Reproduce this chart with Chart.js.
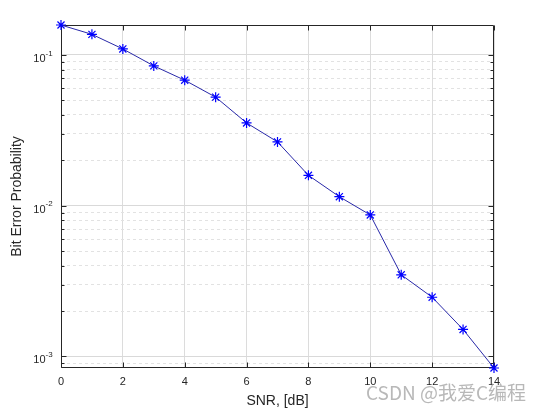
<!DOCTYPE html>
<html>
<head>
<meta charset="utf-8">
<script src="https://cdn.jsdelivr.net/npm/chart.js@4.4.0/dist/chart.umd.min.js"></script>
<style>
  html, body { margin: 0; padding: 0; background: #fff; }
  canvas { display: block; }
</style>
</head>
<body>
<canvas id="berChart" width="540" height="411"></canvas>
<script>
// data (semilogy, axis tight)
const snr = [0, 1, 2, 3, 4, 5, 6, 7, 8, 9, 10, 11, 12, 13, 14];
const ber = [0.158, 0.137, 0.1096, 0.0846, 0.068, 0.0525, 0.0354, 0.0265, 0.0159, 0.01147, 0.00868, 0.00348, 0.00247, 0.00151, 0.000838];

const xTicks = [0, 2, 4, 6, 8, 10, 12, 14];
const yMajorTicks = [0.001, 0.01, 0.1];
const yExponents = ['-3', '-2', '-1'];
const yMinorTicks = [0.0009,
  0.002, 0.003, 0.004, 0.005, 0.006, 0.007, 0.008, 0.009,
  0.02, 0.03, 0.04, 0.05, 0.06, 0.07, 0.08, 0.09];

const textColor = '#262626';
const fontName = '"Liberation Sans", Arial, sans-serif';

// box + inward ticks like matlab axes
const axesBox = {
  id: 'axesBox',
  beforeDatasetsDraw(chart) {
    const { ctx, chartArea: a, scales: { x, y } } = chart;
    const L = Math.round(a.left) + 0.5, R = Math.round(a.right) - 0.5;
    const T = Math.round(a.top) + 0.5, B = Math.round(a.bottom) - 0.5;
    ctx.save();
    ctx.strokeStyle = textColor;
    ctx.lineWidth = 1;
    ctx.beginPath();
    xTicks.forEach(v => {
      const px = Math.round(x.getPixelForValue(v)) + 0.5;
      ctx.moveTo(px, B); ctx.lineTo(px, B - 5);
      ctx.moveTo(px, T); ctx.lineTo(px, T + 5);
    });
    yMajorTicks.forEach(v => {
      const py = Math.round(y.getPixelForValue(v)) + 0.5;
      ctx.moveTo(L, py); ctx.lineTo(L + 5, py);
      ctx.moveTo(R, py); ctx.lineTo(R - 5, py);
    });
    yMinorTicks.forEach(v => {
      const py = Math.round(y.getPixelForValue(v)) + 0.5;
      ctx.moveTo(L, py); ctx.lineTo(L + 3, py);
      ctx.moveTo(R, py); ctx.lineTo(R - 3, py);
    });
    ctx.rect(L, T, R - L, B - T);
    ctx.stroke();
    ctx.restore();
  },
  afterDraw(chart) {
    const { ctx, scales: { y } } = chart;
    ctx.save();
    ctx.fillStyle = textColor;
    ctx.textBaseline = 'middle';
    yMajorTicks.forEach((v, i) => {
      const py = y.getPixelForValue(v);
      ctx.font = '11px ' + fontName;
      ctx.textAlign = 'right';
      ctx.fillText('10', 45.5, py + 4);
      ctx.font = '8px ' + fontName;
      ctx.textAlign = 'left';
      ctx.fillText(yExponents[i], 45.5, py - 1.5);
    });
    // watermark
    ctx.font = '19px "Noto Sans CJK SC", "Liberation Sans", sans-serif';
    ctx.fillStyle = 'rgba(160,160,160,0.75)';
    ctx.textAlign = 'left';
    ctx.fillText('CSDN @我爱C编程', 366, 393);
    ctx.restore();
  }
};

const ctx = document.getElementById('berChart').getContext('2d');

const berChart = new Chart(ctx, {
  type: 'line',
  data: {
    datasets: [{
      label: 'BER',
      data: snr.map((s, i) => ({ x: s, y: ber[i] })),
      borderColor: '#2828a8',
      borderWidth: 1,
      tension: 0,
      pointStyle: 'star',
      pointRadius: 5,
      pointBorderWidth: 1.2,
      pointBorderColor: '#0000ff',
      pointBackgroundColor: '#0000ff',
      clip: false
    }]
  },
  options: {
    responsive: false,
    animation: false,
    devicePixelRatio: 1,
    events: [],
    layout: { padding: { left: 0, top: 25, right: 46, bottom: 0 } },
    plugins: {
      legend: { display: false },
      tooltip: { enabled: false }
    },
    scales: {
      x: {
        type: 'linear',
        min: 0,
        max: 14,
        afterFit(scale) { scale.height = 43; },
        afterBuildTicks(scale) { scale.ticks = xTicks.map(v => ({ value: v })); },
        ticks: {
          color: textColor,
          font: { family: fontName, size: 11 },
          padding: 7,
          maxRotation: 0
        },
        grid: { color: '#dcdcdc', drawTicks: false },
        border: { display: false },
        title: {
          display: true,
          text: 'SNR, [dB]',
          color: textColor,
          font: { family: fontName, size: 14 },
          padding: { top: 0, bottom: 1 }
        }
      },
      y: {
        type: 'logarithmic',
        min: Math.min(...ber),
        max: Math.max(...ber),
        afterFit(scale) { scale.width = 61; },
        afterBuildTicks(scale) {
          scale.ticks = yMajorTicks.concat(yMinorTicks).sort((a, b) => a - b).map(v => ({ value: v }));
        },
        ticks: { display: false, autoSkip: false },
        grid: {
          drawTicks: false,
          color: c => yMajorTicks.includes(c.tick.value) ? '#d9d9d9' : '#e2e2e2'
        },
        border: {
          display: false,
          dash: c => yMajorTicks.includes(c.tick.value) ? [] : [3, 3]
        },
        title: {
          display: true,
          text: 'Bit Error Probability',
          color: textColor,
          font: { family: fontName, size: 14 },
          padding: { top: 9, bottom: 0 }
        }
      }
    }
  },
  plugins: [axesBox]
});
</script>
</body>
</html>
